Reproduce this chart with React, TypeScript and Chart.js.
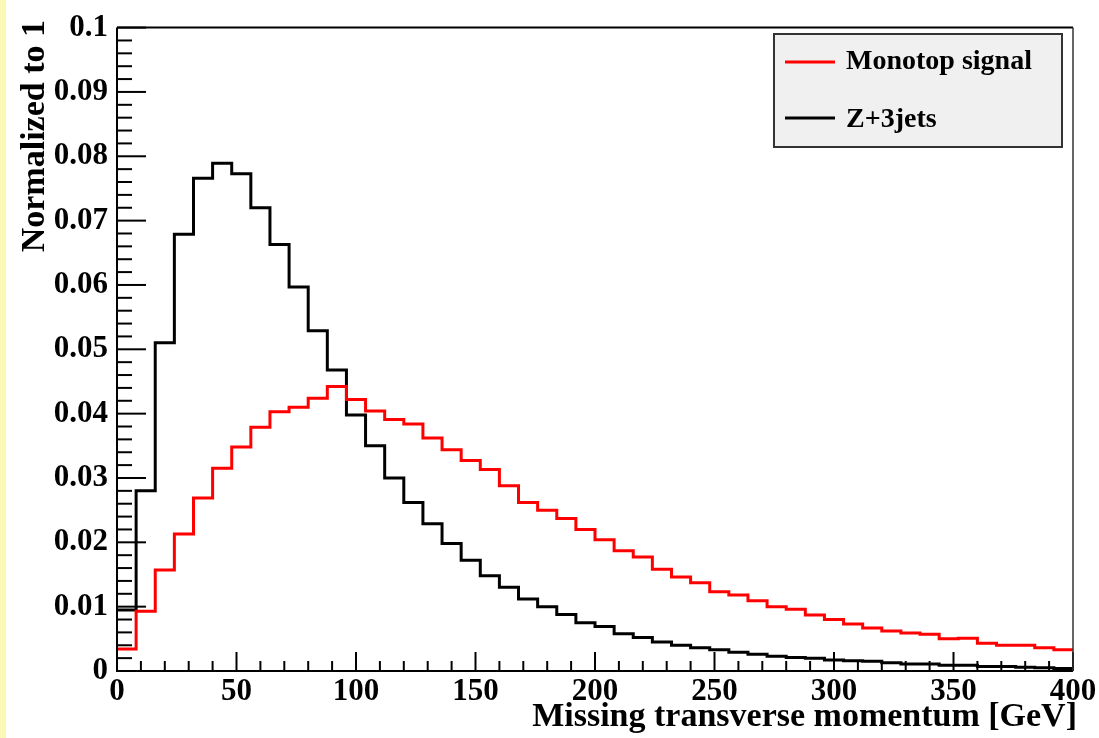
import React, { useEffect, useRef } from "react";
import { Chart, registerables } from "chart.js";

Chart.register(...registerables);

// ---- data ----
const BIN_LOW_EDGES = [
  0, 8, 16, 24, 32, 40, 48, 56, 64, 72,
  80, 88, 96, 104, 112, 120, 128, 136, 144, 152,
  160, 168, 176, 184, 192, 200, 208, 216, 224, 232,
  240, 248, 256, 264, 272, 280, 288, 296, 304, 312,
  320, 328, 336, 344, 352, 360, 368, 376, 384, 392,
];
const X_MAX = 400;

const monotopSignal = [
  0.0034, 0.0093, 0.0157, 0.0213, 0.0269, 0.0315, 0.0348, 0.0379, 0.0403, 0.041,
  0.0424, 0.0442, 0.0422, 0.0404, 0.0391, 0.0384, 0.0362, 0.0344, 0.0327, 0.0313,
  0.0288, 0.0262, 0.025, 0.0237, 0.022, 0.0204, 0.0187, 0.0177, 0.0158, 0.0146,
  0.0137, 0.0123, 0.0118, 0.0109, 0.01, 0.0096, 0.0087, 0.008, 0.0073, 0.0067,
  0.0062, 0.0059, 0.0057, 0.005, 0.0051, 0.0043, 0.004, 0.004, 0.0036, 0.0033,
];

const zPlus3Jets = [
  0.0095, 0.028, 0.051, 0.0679, 0.0766, 0.0789, 0.0773, 0.072, 0.0663, 0.0597,
  0.0529, 0.0468, 0.0398, 0.035, 0.03, 0.0262, 0.0229, 0.0198, 0.0172, 0.0148,
  0.013, 0.0112, 0.01, 0.0088, 0.0075, 0.0069, 0.0058, 0.0052, 0.0045, 0.004,
  0.0036, 0.0033, 0.0029, 0.0026, 0.0023, 0.0021, 0.002, 0.0017, 0.0016, 0.0015,
  0.0013, 0.0011, 0.0011, 0.0009, 0.0009, 0.0007, 0.0007, 0.0006, 0.0005, 0.0004,
];

const SERIES_LABELS = ["Monotop signal", "Z+3jets"];
const SERIES_COLORS = ["#ff0000", "#000000"];

const X_TICKS = [0, 50, 100, 150, 200, 250, 300, 350, 400];
const X_TICK_LABELS = ["0", "50", "100", "150", "200", "250", "300", "350", "400"];
const Y_TICKS = [0, 0.01, 0.02, 0.03, 0.04, 0.05, 0.06, 0.07, 0.08, 0.09, 0.1];
const Y_TICK_LABELS = ["0", "0.01", "0.02", "0.03", "0.04", "0.05", "0.06", "0.07", "0.08", "0.09", "0.1"];

const X_TITLE = "Missing transverse momentum [GeV]";
const Y_TITLE = "Normalized to 1";

const FONT_FAMILY = "'Liberation Serif', 'Times New Roman', serif";

function histPoints(values: number[]) {
  const pts = BIN_LOW_EDGES.map((x, i) => ({ x, y: values[i] }));
  pts.push({ x: X_MAX, y: values[values.length - 1] });
  return pts;
}

const rootStylePlugin = {
  id: "rootStyle",
  beforeDraw(chart: any) {
    const { ctx, width, height } = chart;
    ctx.save();
    ctx.fillStyle = "#ffffff";
    ctx.fillRect(0, 0, width, height);
    ctx.fillStyle = "#fcf8b6";
    ctx.fillRect(0, 0, 6, height);
    ctx.restore();
  },
  afterDatasetsDraw(chart: any) {
    const { ctx, chartArea } = chart;
    const xs = chart.scales.x;
    const ys = chart.scales.y;
    const { left, right, top, bottom } = chartArea;
    ctx.save();
    ctx.strokeStyle = "#000";
    ctx.lineWidth = 2;
    // x ticks (inward)
    for (let i = 0; i < X_TICKS.length; i++) {
      const v = X_TICKS[i];
      const px = xs.getPixelForValue(v);
      ctx.beginPath();
      ctx.moveTo(px, bottom);
      ctx.lineTo(px, bottom - 19);
      ctx.stroke();
      if (i < X_TICKS.length - 1) {
        const step = (X_TICKS[i + 1] - v) / 5;
        for (let k = 1; k < 5; k++) {
          const mx = xs.getPixelForValue(v + k * step);
          ctx.beginPath();
          ctx.moveTo(mx, bottom);
          ctx.lineTo(mx, bottom - 10);
          ctx.stroke();
        }
      }
    }
    // y ticks (inward)
    for (let i = 0; i < Y_TICKS.length; i++) {
      const v = Y_TICKS[i];
      const py = ys.getPixelForValue(v);
      ctx.beginPath();
      ctx.moveTo(left, py);
      ctx.lineTo(left + 29, py);
      ctx.stroke();
      if (i < Y_TICKS.length - 1) {
        const step = (Y_TICKS[i + 1] - v) / 5;
        for (let k = 1; k < 5; k++) {
          const my = ys.getPixelForValue(v + k * step);
          ctx.beginPath();
          ctx.moveTo(left, my);
          ctx.lineTo(left + 15, my);
          ctx.stroke();
        }
      }
    }
    // frame
    ctx.lineWidth = 2;
    ctx.beginPath();
    ctx.moveTo(left, top);
    ctx.lineTo(left, bottom);
    ctx.lineTo(right, bottom);
    ctx.stroke();
    ctx.beginPath();
    ctx.moveTo(left, top);
    ctx.lineTo(right, top);
    ctx.stroke();
    ctx.strokeStyle = "#333";
    ctx.lineWidth = 1.5;
    ctx.beginPath();
    ctx.moveTo(right, top);
    ctx.lineTo(right, bottom);
    ctx.stroke();

    // axis titles
    ctx.fillStyle = "#000";
    ctx.font = `bold 34px ${FONT_FAMILY}`;
    ctx.textAlign = "right";
    ctx.textBaseline = "alphabetic";
    ctx.fillText(X_TITLE, 1077, 726);
    ctx.save();
    ctx.translate(44, 20);
    ctx.rotate(-Math.PI / 2);
    ctx.fillText(Y_TITLE, 0, 0);
    ctx.restore();

    // legend
    const bx = 774, by = 34, bw = 288, bh = 113;
    ctx.fillStyle = "#f0f0f0";
    ctx.fillRect(bx, by, bw, bh);
    ctx.strokeStyle = "#333";
    ctx.lineWidth = 2;
    ctx.strokeRect(bx, by, bw, bh);
    const lineYs = [62, 118];
    const textYs = [69, 127];
    ctx.font = `bold 28px ${FONT_FAMILY}`;
    ctx.textAlign = "left";
    ctx.textBaseline = "alphabetic";
    chart.data.datasets.forEach((ds: any, i: number) => {
      ctx.strokeStyle = ds.borderColor;
      ctx.lineWidth = 3;
      ctx.beginPath();
      ctx.moveTo(785, lineYs[i]);
      ctx.lineTo(835, lineYs[i]);
      ctx.stroke();
      ctx.fillStyle = "#000";
      ctx.fillText(ds.label, 846, textYs[i]);
    });
    ctx.restore();
  },
};

export default function App() {
  const canvasRef = useRef<HTMLCanvasElement | null>(null);

  useEffect(() => {
    const canvas = canvasRef.current;
    if (!canvas) return;
    const tickFont = { family: FONT_FAMILY, size: 31, weight: "bold" as const };
    const chart = new Chart(canvas, {
      type: "line",
      data: {
        datasets: [
          {
            label: SERIES_LABELS[0],
            data: histPoints(monotopSignal),
            borderColor: SERIES_COLORS[0],
            borderWidth: 3,
            stepped: "before",
            pointRadius: 0,
            fill: false,
          },
          {
            label: SERIES_LABELS[1],
            data: histPoints(zPlus3Jets),
            borderColor: SERIES_COLORS[1],
            borderWidth: 3,
            stepped: "before",
            pointRadius: 0,
            fill: false,
          },
        ],
      },
      options: {
        animation: false,
        responsive: false,
        maintainAspectRatio: false,
        devicePixelRatio: 1,
        layout: { padding: { left: 0, right: 26, top: 26, bottom: 0 } },
        plugins: {
          legend: { display: false },
          tooltip: { enabled: false },
        },
        scales: {
          x: {
            type: "linear",
            min: 0,
            max: X_MAX,
            afterBuildTicks: (scale: any) => {
              scale.ticks = X_TICKS.map((v) => ({ value: v }));
            },
            afterFit: (scale: any) => {
              scale.height = 67;
            },
            ticks: {
              font: tickFont,
              color: "#000",
              padding: 2,
              maxRotation: 0,
              autoSkip: false,
              callback: (_v: any, i: number) => X_TICK_LABELS[i],
            },
            grid: { display: false, drawTicks: false },
            border: { display: false },
          },
          y: {
            type: "linear",
            min: 0,
            max: 0.1,
            afterBuildTicks: (scale: any) => {
              scale.ticks = Y_TICKS.map((v) => ({ value: v }));
            },
            afterFit: (scale: any) => {
              scale.width = 117;
            },
            ticks: {
              font: tickFont,
              color: "#000",
              padding: 9,
              autoSkip: false,
              callback: (_v: any, i: number) => Y_TICK_LABELS[i],
            },
            grid: { display: false, drawTicks: false },
            border: { display: false },
          },
        },
      },
      plugins: [rootStylePlugin],
    });
    return () => chart.destroy();
  }, []);

  return (
    <div style={{ position: "fixed", left: 0, top: 0, width: 1099, height: 738, background: "#fff" }}>
      <canvas ref={canvasRef} width={1099} height={738} style={{ display: "block", width: 1099, height: 738 }} />
    </div>
  );
}
